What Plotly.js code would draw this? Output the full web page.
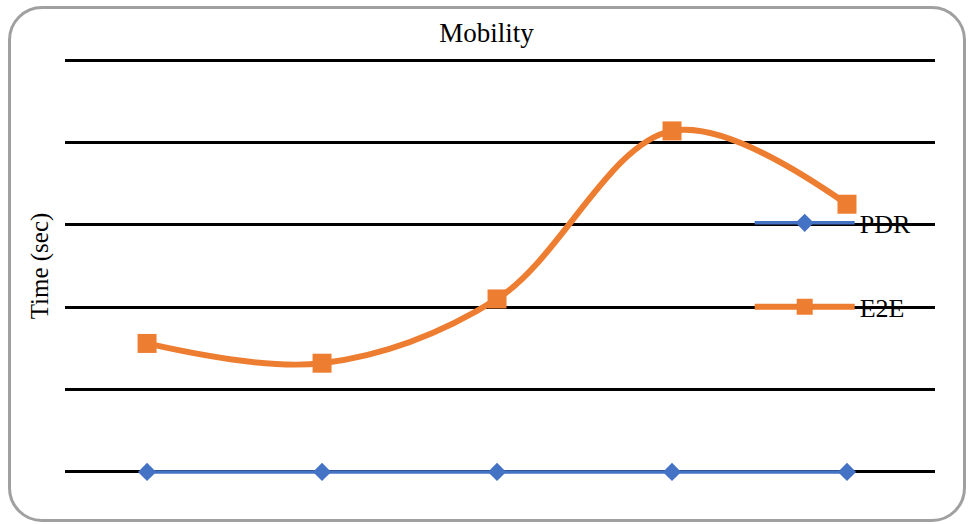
<!DOCTYPE html>
<html>
<head>
<meta charset="utf-8">
<script src="https://cdn.plot.ly/plotly-3.0.1.min.js"></script>
<style>
  html, body { margin: 0; padding: 0; background: #fff; }
  #frame { position: absolute; left: 8px; top: 6px; width: 958px; height: 516px;
           border: 3px solid #a0a0a0; border-radius: 34px; box-sizing: border-box; }
  #chart { position: absolute; left: 0; top: 0; width: 973px; height: 524px; }
</style>
</head>
<body>
<div id="frame"></div>
<div id="chart"></div>
<script>
const categories = [1, 2, 3, 4, 5];
const pdrValues = [0, 0, 0, 0, 0];
const e2eValues = [1.56, 1.32, 2.10, 4.14, 3.25];
const seriesNames = ["PDR", "E2E"];

const traces = [
  {
    x: categories, y: pdrValues, name: seriesNames[0], type: "scatter", mode: "lines+markers",
    legendgroup: "a", cliponaxis: false,
    line: { color: "#4472C4", width: 3.5 },
    marker: { symbol: "diamond", size: 14, color: "#4472C4" }
  },
  {
    x: categories, y: e2eValues, name: seriesNames[1], type: "scatter", mode: "lines+markers",
    legendgroup: "b", cliponaxis: false,
    line: { color: "#ED7D31", width: 6, shape: "spline", smoothing: 1 },
    marker: { symbol: "square", size: 19, color: "#ED7D31" }
  }
];

const layout = {
  width: 973, height: 524,
  paper_bgcolor: "rgba(0,0,0,0)", plot_bgcolor: "rgba(0,0,0,0)",
  margin: { l: 65, r: 38, t: 58, b: 50 },
  font: { family: "Liberation Serif, Times New Roman, serif", color: "#000" },
  title: { text: "Mobility", font: { size: 27, family: "Liberation Serif" }, x: 0.5, xanchor: "center", y: 0.938, yanchor: "middle" },
  xaxis: {
    range: [0.531, 5.503], showgrid: false, zeroline: false, showticklabels: false, ticks: "", showline: false
  },
  yaxis: {
    range: [-0.025, 5.025], dtick: 1, tick0: 0, showgrid: true, gridcolor: "#000", gridwidth: 3,
    zeroline: true, zerolinecolor: "#000", zerolinewidth: 3,
    showticklabels: false, ticks: "", showline: false,
    title: { text: "Time (sec)", font: { size: 25, family: "Liberation Serif" }, standoff: 8 }
  },
  showlegend: true,
  legend: {
    x: 0.787, xanchor: "left", y: 0.66, yanchor: "top",
    bgcolor: "rgba(0,0,0,0)", borderwidth: 0,
    traceorder: "grouped", tracegroupgap: 47, itemwidth: 100,
    font: { size: 26, family: "Liberation Serif" }
  }
};

Plotly.newPlot("chart", traces, layout, { displayModeBar: false, staticPlot: true });
</script>
</body>
</html>
